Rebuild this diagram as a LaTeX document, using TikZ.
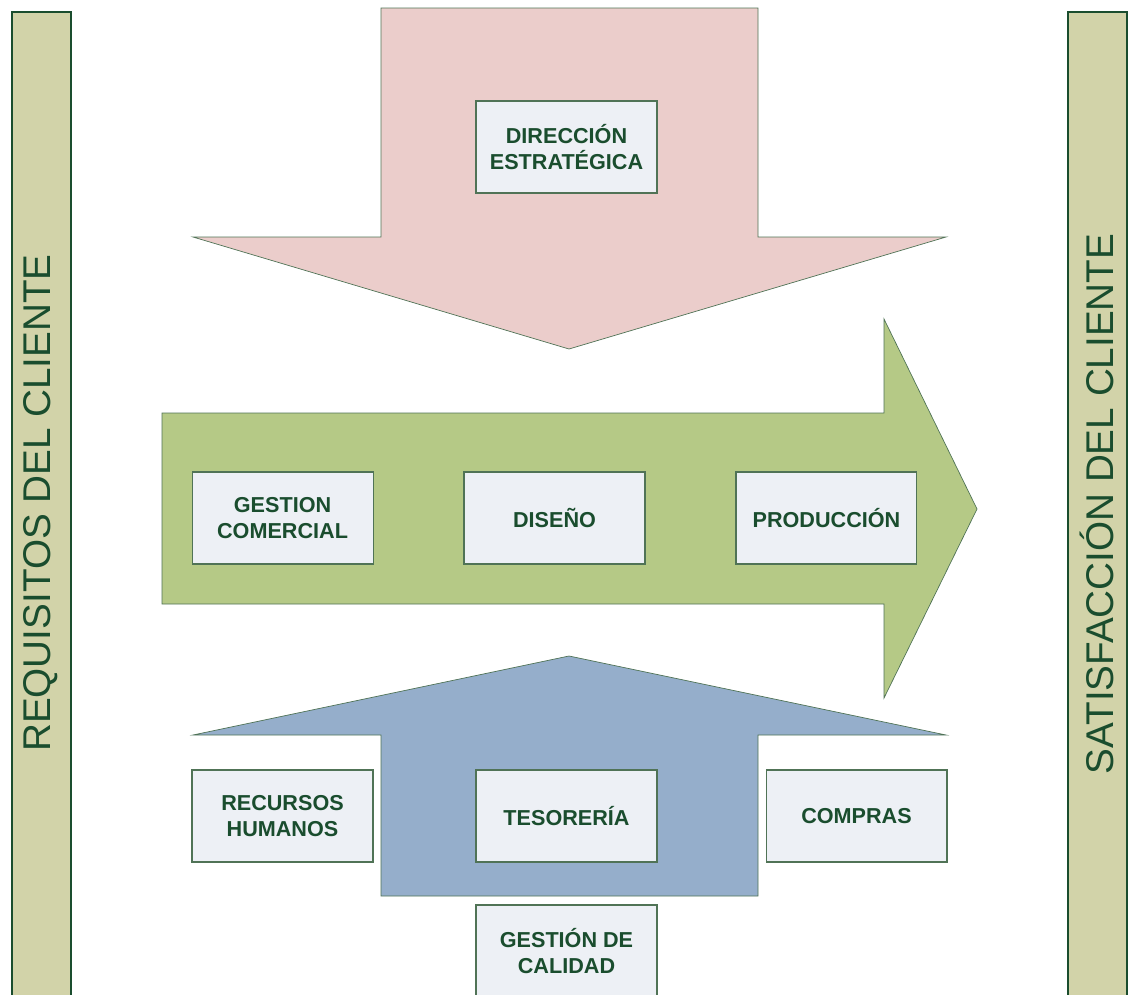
\documentclass[tikz,border=0pt]{standalone}
\usepackage{fontspec}
\setmainfont{Liberation Sans}
\usetikzlibrary{positioning}

\definecolor{barra}{RGB}{210,211,169}
\definecolor{rojo}{RGB}{235,205,203}
\definecolor{verde}{RGB}{181,201,134}
\definecolor{azul}{RGB}{149,174,203}
\definecolor{caja}{RGB}{237,240,245}
\definecolor{texto}{RGB}{26,77,46}
\definecolor{borde}{RGB}{80,115,86}

\begin{document}
\begin{tikzpicture}[x=0.02cm,y=-0.02cm,node distance=5.44cm,line join=miter]
	\tikzstyle{proceso}=[draw=borde,fill=caja,semithick,minimum width=3.62cm,minimum height=1.84cm,
		align=center,text=texto,font=\fontsize{12.3}{15.3}\selectfont\bfseries]
	\tikzstyle{lateral}=[draw=texto,fill=barra,semithick]
	\tikzstyle{flecha}=[draw=borde,thin]

	\useasboundingbox (0,0) rectangle (1129,994);

	% barras laterales
	\draw[lateral] (12,12) rectangle (71,1000);
	\draw[lateral] (1068,12) rectangle (1127,1000);
	\node (requisitos) [rotate=90,text=texto,font=\fontsize{22}{26}\selectfont] at (41,503) {REQUISITOS DEL CLIENTE};
	\node (satisfaccion) [rotate=90,text=texto,font=\fontsize{22}{26}\selectfont] at (1097,504) {SATISFACCIÓN DEL CLIENTE};

	% flecha de arriba
	\draw[flecha,fill=rojo] (381,8) -- (758,8) -- (758,237) -- (946,237) -- (569,349)
		-- (193,237) -- (381,237) -- cycle;
	% flecha central
	\draw[flecha,fill=verde] (162,413) -- (884,413) -- (884,319) -- (977,509) -- (884,698)
		-- (884,604) -- (162,604) -- cycle;
	% flecha de abajo
	\draw[flecha,fill=azul] (381,896) -- (381,735) -- (193,735) -- (569,656) -- (946,735)
		-- (758,735) -- (758,896) -- cycle;

	\node[proceso] (direccion) at (566.5,147) {DIRECCIÓN\\ESTRATÉGICA};

	\node[proceso] (disenio) at (554.5,518) {DISEÑO};
	\node[proceso,left of=disenio] (comercial) {GESTION\\COMERCIAL};
	\node[proceso,right of=disenio] (produccion) {PRODUCCIÓN};

	\node[proceso] (tesoreria) at (566.5,816) {TESORERÍA};
	\node[proceso] (rrhh) at (282.5,816) {RECURSOS\\HUMANOS};
	\node[proceso] (compras) at (856.5,816) {COMPRAS};
	\node[proceso] (calidad) at (566.5,951) {GESTIÓN DE\\CALIDAD};
\end{tikzpicture}
\end{document}
